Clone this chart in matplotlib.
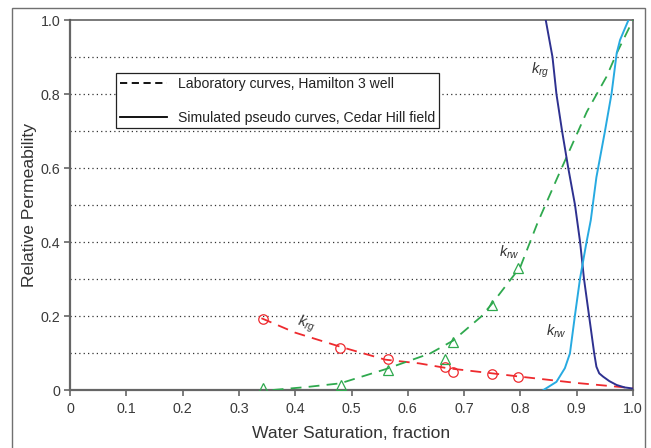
import matplotlib
matplotlib.use("Agg")
import matplotlib.pyplot as plt
from matplotlib.patches import Rectangle
from matplotlib.lines import Line2D

plt.rcParams['font.family'] = ['Liberation Sans', 'DejaVu Sans']
plt.rcParams['mathtext.fontset'] = 'custom'
plt.rcParams['mathtext.rm'] = 'Liberation Sans'
plt.rcParams['mathtext.it'] = 'Liberation Sans:italic'

# ---- data ----
# laboratory gas rel. perm. (red circles) and fitted curve
lab_krg_sw = [0.342, 0.48, 0.564, 0.666, 0.681, 0.750, 0.796]
lab_krg_pts = [0.192, 0.114, 0.083, 0.063, 0.048, 0.043, 0.036]
lab_krg_curve_sw = [0.34, 0.40, 0.48, 0.56, 0.62, 0.67, 0.75, 0.80, 0.90, 1.0]
lab_krg_curve = [0.194, 0.155, 0.117, 0.082, 0.072, 0.059, 0.045, 0.036, 0.019, 0.005]

# laboratory water rel. perm. (green triangles) and fitted curve
lab_krw_sw = [0.342, 0.481, 0.564, 0.666, 0.681, 0.750, 0.796]
lab_krw_pts = [0.006, 0.013, 0.053, 0.083, 0.131, 0.229, 0.329]
lab_krw_curve_sw = [0.36, 0.42, 0.48, 0.56, 0.64, 0.68, 0.73, 0.75, 0.80, 0.83,
                    0.866, 0.918, 0.953, 0.971, 1.0]
lab_krw_curve = [0.0, 0.008, 0.018, 0.056, 0.099, 0.133, 0.198, 0.234, 0.333, 0.45,
                 0.575, 0.752, 0.847, 0.91, 1.0]

# simulated pseudo curves, Cedar Hill field
sim_krg_sw = [0.845, 0.857, 0.864, 0.874, 0.885, 0.897, 0.906, 0.913, 0.922, 0.931,
              0.935, 0.940, 0.947, 0.958, 0.971, 0.985, 1.0]
sim_krg = [1.0, 0.9, 0.8, 0.7, 0.6, 0.5, 0.4, 0.3, 0.2, 0.1,
           0.063, 0.045, 0.036, 0.024, 0.0135, 0.007, 0.004]
sim_krw_sw = [0.841, 0.864, 0.879, 0.888, 0.897, 0.906, 0.917, 0.925, 0.935, 0.950,
              0.962, 0.971, 0.977, 0.985, 0.992]
sim_krw = [0.0, 0.022, 0.059, 0.099, 0.203, 0.302, 0.396, 0.459, 0.575, 0.698,
           0.802, 0.91, 0.946, 0.975, 1.0]

x_ticks = [0, 0.1, 0.2, 0.3, 0.4, 0.5, 0.6, 0.7, 0.8, 0.9, 1.0]
x_tick_labels = ['0', '0.1', '0.2', '0.3', '0.4', '0.5', '0.6', '0.7', '0.8', '0.9', '1.0']
y_ticks = [0, 0.2, 0.4, 0.6, 0.8, 1.0]
y_tick_labels = ['0', '0.2', '0.4', '0.6', '0.8', '1.0']
grid_levels = [0.1, 0.2, 0.3, 0.4, 0.5, 0.6, 0.7, 0.8, 0.9]

legend_labels = ['Laboratory curves, Hamilton 3 well',
                 'Simulated pseudo curves, Cedar Hill field']

RED = '#ee2a2e'
GREEN = '#2fa94e'
NAVY = '#2e3190'
SKY = '#27aae1'

fig = plt.figure(figsize=(6.51, 4.48), dpi=100)
ax = fig.add_axes([70/651, 1 - 390/448, 563/651, 370/448])

# outer frame of the figure
fig.patches.append(Rectangle((12/651, -0.1), 633/651, 1.1 - 8/448,
                             transform=fig.transFigure, fill=False,
                             edgecolor='#707070', linewidth=1.0))

for g in grid_levels:
    ax.axhline(g, color='#333333', linewidth=0.9, linestyle=(0, (1, 2.5)), zorder=1)

dash = (0, (6, 4))
ax.plot(lab_krg_curve_sw, lab_krg_curve, color=RED, linestyle=dash, linewidth=1.3, zorder=3)
ax.plot(lab_krw_curve_sw, lab_krw_curve, color=GREEN, linestyle=dash, linewidth=1.3, zorder=3)
ax.plot(lab_krg_sw, lab_krg_pts, linestyle='none', marker='o', markersize=6.8,
        markerfacecolor='none', markeredgecolor=RED, markeredgewidth=0.9, zorder=4)
ax.plot(lab_krw_sw, lab_krw_pts, linestyle='none', marker='^', markersize=6.8,
        markerfacecolor='none', markeredgecolor=GREEN, markeredgewidth=0.9, zorder=4)
ax.plot(sim_krg_sw, sim_krg, color=NAVY, linewidth=1.4, zorder=3)
ax.plot(sim_krw_sw, sim_krw, color=SKY, linewidth=1.4, zorder=3)

lab_kw = dict(fontsize=10.5, color='#333333', ha='center', va='center', zorder=5)
ax.text(0.835, 0.865, r'$k_{rg}$', **lab_kw)
ax.text(0.780, 0.373, r'$k_{rw}$', **lab_kw)
ax.text(0.863, 0.159, r'$k_{rw}$', **lab_kw)
ax.text(0.419, 0.178, r'$k_{rg}$', rotation=-15, **lab_kw)

ax.set_xlim(0, 1.0)
ax.set_ylim(0, 1.0)
ax.set_xticks(x_ticks)
ax.set_xticklabels(x_tick_labels)
ax.set_yticks(y_ticks)
ax.set_yticklabels(y_tick_labels)
ax.tick_params(direction='out', length=4, width=1.2, color='#666666',
               labelsize=10.3, labelcolor='#3a3a3a', pad=3)
ax.tick_params(axis='x', pad=4.5)

for side in ['left', 'bottom']:
    ax.spines[side].set_color('#666666')
    ax.spines[side].set_linewidth(1.6)
for side in ['top', 'right']:
    ax.spines[side].set_color('#555555')
    ax.spines[side].set_linewidth(1.1)

ax.set_xlabel('Water Saturation, fraction', fontsize=12.6, color='#333333', labelpad=7)
ax.set_ylabel('Relative Permeability', fontsize=12.6, color='#333333', labelpad=2.5)

handles = [Line2D([], [], color='black', linestyle=(0, (4, 2.5)), linewidth=1.3),
           Line2D([], [], color='black', linestyle='-', linewidth=1.3)]
leg = ax.legend(handles, legend_labels, loc='upper left', bbox_to_anchor=(0.081, 0.856),
                borderaxespad=0, fontsize=10.1, frameon=True, fancybox=False,
                edgecolor='#222222', framealpha=1, labelspacing=1.38,
                handlelength=3.36, handletextpad=0.79, borderpad=0.28)
leg.get_frame().set_linewidth(0.9)
leg.set_zorder(6)
for t in leg.get_texts():
    t.set_color('#222222')

fig.savefig('out.png', dpi=100)
